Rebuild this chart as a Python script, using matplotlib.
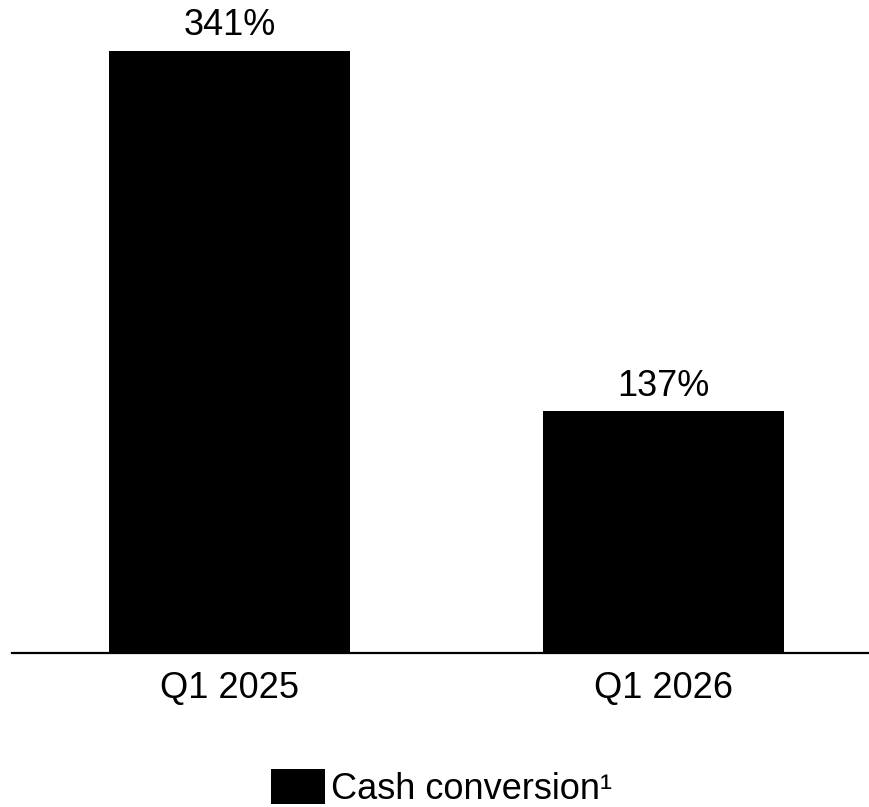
import matplotlib
matplotlib.use("Agg")
import matplotlib.pyplot as plt
from matplotlib.patches import Patch

categories = ["Q1 2025", "Q1 2026"]
values = [341, 137]
value_labels = ["341%", "137%"]
series_name = "Cash conversion\u00b9"

plt.rcParams['font.family'] = ['Liberation Sans', 'DejaVu Sans']

W, H = 869, 807
fig = plt.figure(figsize=(W / 100, H / 100), dpi=100)
ax = fig.add_axes([12 / W, 1 - 653 / H, (W - 12) / W, 653 / H])

x = list(range(len(categories)))
ax.bar(x, values, width=0.556, color="black", zorder=2)
ax.set_xlim(-0.5017, 1.475)
ax.set_ylim(0, 369.6)

for xi, v, lab in zip(x, values, value_labels):
    ax.annotate(lab, (xi, v), xytext=(0, 11), textcoords="offset points",
                ha="center", va="baseline", fontsize=26)

for s in ["top", "right", "left"]:
    ax.spines[s].set_visible(False)
ax.spines["bottom"].set_linewidth(1.6)
ax.spines["bottom"].set_color("black")
ax.set_yticks([])
ax.set_xticks(x)
ax.set_xticklabels(categories, fontsize=26)
ax.tick_params(axis="x", length=0, pad=13)

handle = Patch(facecolor="black", edgecolor="none")
fig.legend([handle], [series_name], loc="lower center",
           bbox_to_anchor=(441.5 / W, 0.0), frameon=False, fontsize=26,
           handlelength=1.5, handleheight=1.1, handletextpad=0.17,
           borderpad=0, borderaxespad=0.0)

fig.savefig("out.png", dpi=100)
